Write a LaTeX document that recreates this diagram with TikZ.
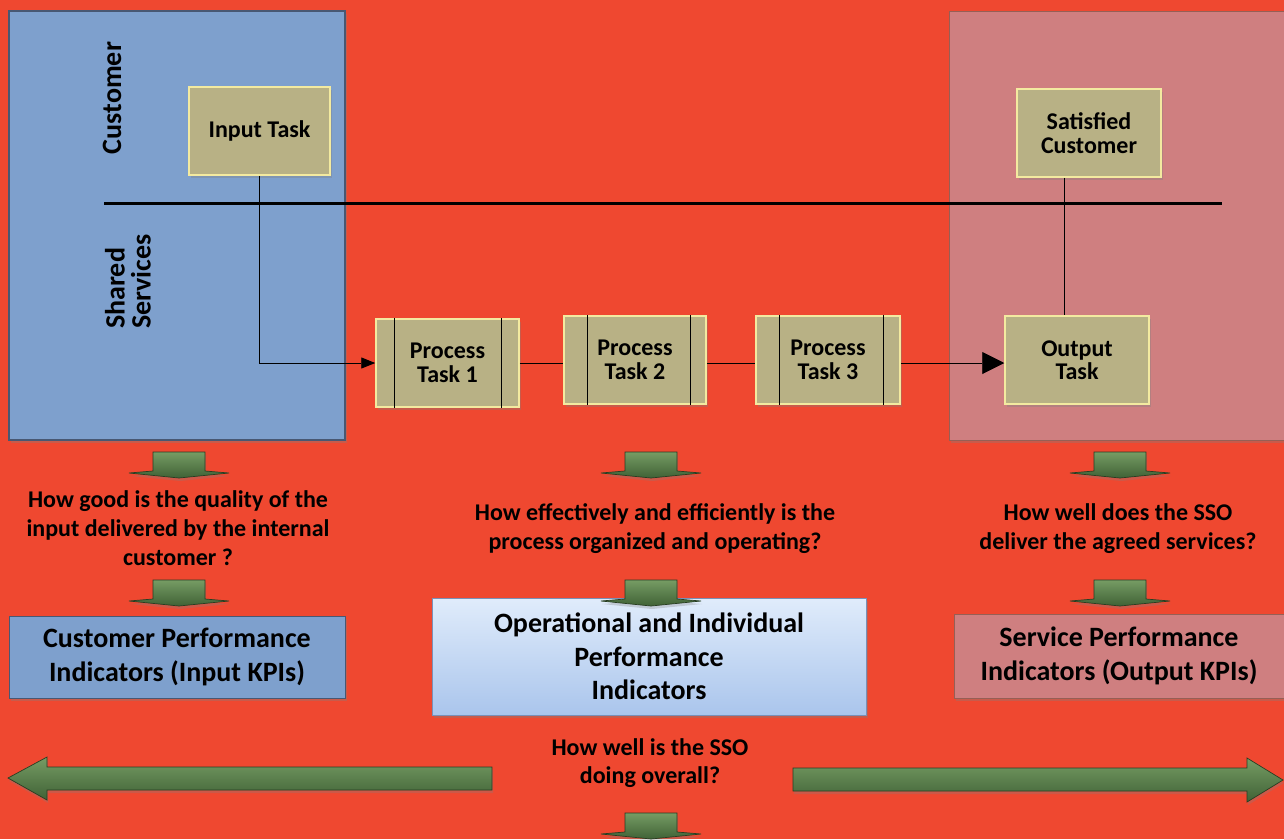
\documentclass[tikz,border=0pt]{standalone}
\usepackage{fontspec}
\setmainfont{Carlito}
\usetikzlibrary{arrows.meta,shadows,calc}
\definecolor{bgred}{RGB}{239,72,48}
\definecolor{bluebox}{RGB}{126,160,205}
\definecolor{pinkbox}{RGB}{207,127,128}
\definecolor{taskfill}{RGB}{184,177,133}
\definecolor{taskline}{RGB}{243,234,160}
\definecolor{bluedark}{RGB}{72,88,115}
\definecolor{pinkdark}{RGB}{150,95,85}
\definecolor{greentop}{RGB}{118,156,100}
\definecolor{greenbot}{RGB}{64,98,54}
\definecolor{greenedge}{RGB}{40,62,34}
\definecolor{opentop}{RGB}{224,236,251}
\definecolor{openbot}{RGB}{170,197,236}
\definecolor{openedge}{RGB}{120,145,185}
\tikzset{
  shad/.style={drop shadow={opacity=0.35,shadow xshift=2pt,shadow yshift=-3pt}},
  panel/.style={draw=bluedark, line width=1.2pt, fill=bluebox, shad},
  pinkpanel/.style={draw=pinkdark, line width=0.8pt, fill=pinkbox, shad},
  task/.style={draw=taskline, line width=1.5pt, fill=taskfill, minimum width=142pt,
    minimum height=88pt, align=center, inner sep=0pt,
    font=\fontsize{24}{23.5}\selectfont\bfseries, shad},
  question/.style={align=center, font=\fontsize{24}{29}\selectfont\bfseries, inner sep=0pt},
  kpi/.style={align=center, font=\fontsize{28}{33.5}\selectfont\bfseries, inner sep=0pt, shad},
  lane/.style={rotate=90, font=\fontsize{28}{26}\selectfont\bfseries, inner sep=0pt},
  flow/.style={line width=0.9pt, draw=black},
  greenfill/.style={top color=greentop, bottom color=greenbot, draw=greenedge, line width=0.7pt,
    drop shadow={opacity=0.3,shadow xshift=1pt,shadow yshift=-3pt}},
  downarr/.pic={
    \path[greenfill] (-26,0)--(26,0)--(26,19)--(50,21)--(0,26)--(-50,21)--(-26,19)--cycle;
  }
}
\begin{document}
\begin{tikzpicture}[x=1pt,y=-1pt]
\clip (0,0) rectangle (1284,839);
\fill[bgred] (0,0) rectangle (1284,839);

% big panels
\path[panel] (9,11) rectangle (345,440);
\path[pinkpanel] (949,11) rectangle (1295,440);

% lane divider
\coordinate (hl1) at (104,203);
\coordinate (hl2) at (1222,203);
\draw[line width=3pt] (hl1) -- (hl2);

% lane labels
\node[lane] (cust) at (112,98) {Customer};
\node[lane, align=left, anchor=west] (ss) at (128,329) {Shared\\Services};

% tasks
\node[task, minimum width=141pt] (input) at (259.5,131) {Input Task};
\node[task, minimum width=143pt] (p1) at (447.5,363) {Process\\Task 1};
\node[task] (p2) at (635,360) {Process\\Task 2};
\node[task, minimum width=144pt] (p3) at (828,360) {Process\\Task 3};
\node[task, minimum width=144pt] (output) at (1077,360) {Output\\Task};
\node[task, minimum width=144pt] (sat) at (1089,133) {Satisfied\\Customer};

% inner bars of process tasks
\foreach \n/\a/\b in {p1/19/18, p2/24/16, p3/24/17}{
  \draw[line width=1pt] ([xshift=\a pt]\n.north west) -- ([xshift=\a pt]\n.south west);
  \draw[line width=1pt] ([xshift=-\b pt]\n.north east) -- ([xshift=-\b pt]\n.south east);
}

% connectors
\draw[flow, -{Triangle[length=14pt,width=11pt]}] (input.south) |- (p1.west);
\draw[flow] (p1.east) -- (p2.west |- p1.east);
\draw[flow] (p2.east |- p1.east) -- (p3.west |- p1.east);
\draw[flow, -{Triangle[length=22pt,width=22pt]}] (p3.east |- p1.east) -- (output.west |- p1.east);
\draw[flow] ([xshift=-25pt]sat.south) -- ([xshift=-13pt]output.north);

% green down arrows
\pic at (179,452) {downarr};
\pic at (179,580) {downarr};
\pic at (651,452) {downarr};
\pic at (1120,452) {downarr};
\pic at (1120,580) {downarr};
\pic at (651,813) {downarr};

% questions
\node[question] (q1) at (178,528) {How good is the quality of the\\input delivered by the internal\\customer ?};
\node[question] (q2) at (655,529) {How effectively and efficiently is the\\process organized and operating?};
\node[question] (q3) at (1118,529) {How well does the SSO\\deliver the agreed services?};

% KPI boxes
\node[kpi, draw=bluedark, line width=1pt, fill=bluebox, minimum width=336pt, minimum height=82pt] (k1) at (177,657) {Customer Performance\\Indicators (Input KPIs)};
\node[kpi, draw=openedge, line width=1pt, top color=opentop, bottom color=openbot, minimum width=434pt, minimum height=117pt] (k2) at (649,656.5) {Operational and Individual\\Performance\\Indicators};
\node[kpi, draw=pinkdark, line width=1pt, fill=pinkbox, minimum width=330pt, minimum height=84pt] (k3) at (1119,656) {Service Performance\\Indicators (Output KPIs)};

% middle arrow over box top
\pic at (651,580) {downarr};

% overall question and arrows
\node[question, font=\fontsize{24}{28}\selectfont\bfseries] (q4) at (650,763) {How well is the SSO\\doing overall?};
\path[greenfill] (492,767) -- (47,767) -- (47,757) -- (8,778) -- (47,800) -- (47,790) -- (492,790) -- cycle;
\path[greenfill] (793,768) -- (1247,768) -- (1247,758) -- (1283,780) -- (1247,802) -- (1247,791) -- (793,791) -- cycle;
\end{tikzpicture}
\end{document}
